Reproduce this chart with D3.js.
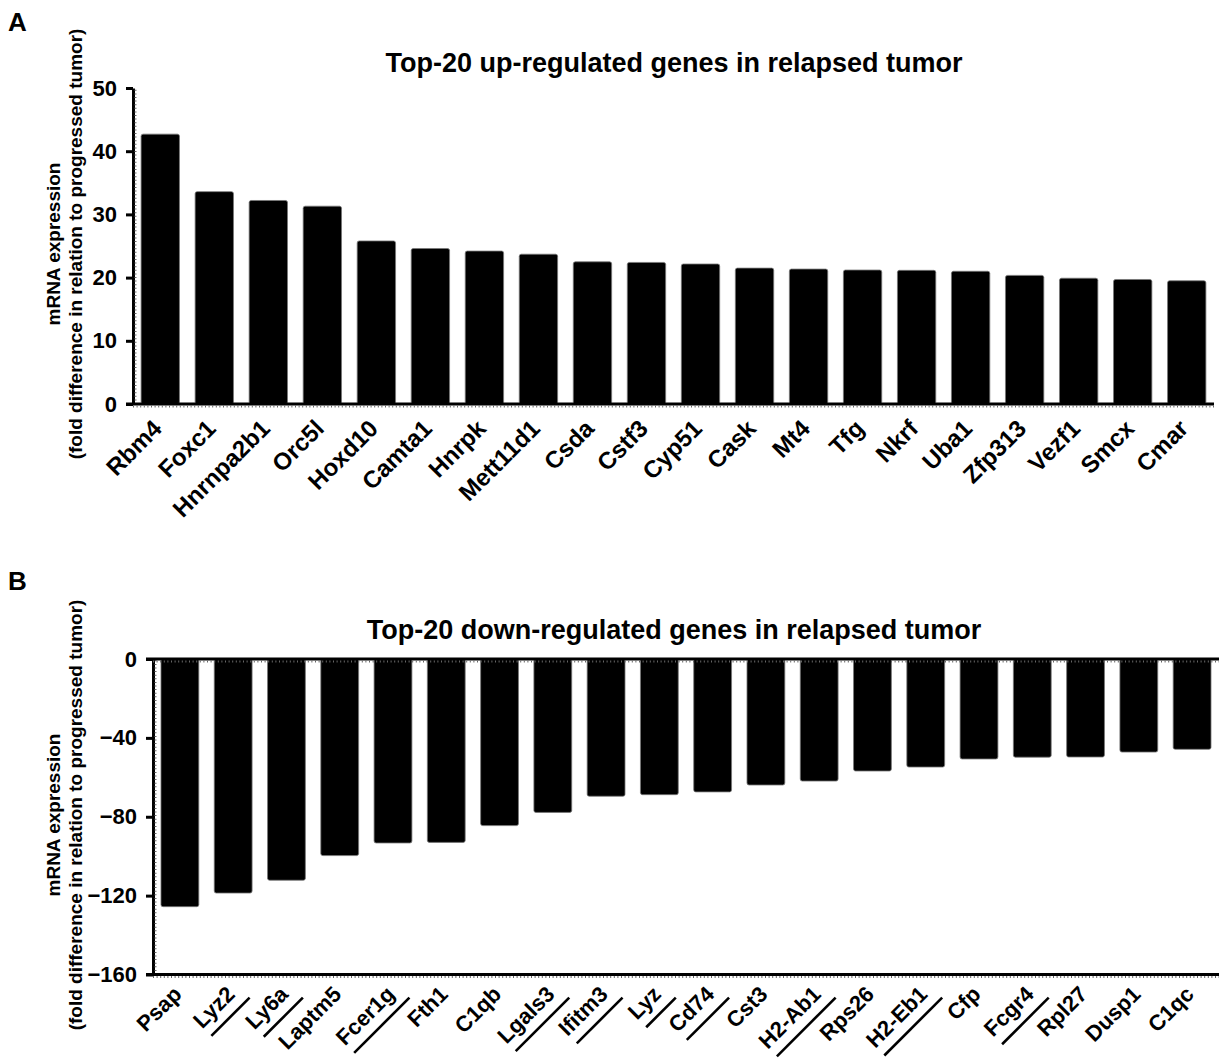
<!DOCTYPE html>
<html>
<head>
<meta charset="utf-8">
<script src="https://cdn.jsdelivr.net/npm/d3@7"></script>
<style>
  html, body { margin: 0; padding: 0; background: #fff; }
  svg { display: block; }
  text { font-family: "Liberation Sans", Arial, sans-serif; font-weight: bold; fill: #000; }
</style>
</head>
<body>
<svg id="chart" width="1220" height="1059"></svg>
<script>
// ---------------- DATA ----------------
const genesUp = ["Rbm4","Foxc1","Hnrnpa2b1","Orc5l","Hoxd10","Camta1","Hnrpk","Mett11d1","Csda","Cstf3",
                 "Cyp51","Cask","Mt4","Tfg","Nkrf","Uba1","Zfp313","Vezf1","Smcx","Cmar"];
const valuesUp = [42.7,33.6,32.2,31.3,25.8,24.6,24.2,23.7,22.5,22.4,
                  22.15,21.5,21.35,21.2,21.15,21.0,20.35,19.9,19.7,19.5];
const ticksUp = [0,10,20,30,40,50];

const genesDown = ["Psap","Lyz2","Ly6a","Laptm5","Fcer1g","Fth1","C1qb","Lgals3","Ifitm3","Lyz",
                   "Cd74","Cst3","H2-Ab1","Rps26","H2-Eb1","Cfp","Fcgr4","Rpl27","Dusp1","C1qc"];
const valuesDown = [-125.6,-118.7,-112.2,-99.7,-93.3,-93.0,-84.5,-77.8,-69.6,-68.8,
                    -67.4,-63.9,-61.9,-56.8,-54.8,-50.7,-49.8,-49.7,-47.2,-45.8];
const ticksDown = [0,-40,-80,-120,-160];
const underlinedDown = ["Lyz2","Ly6a","Fcer1g","Lgals3","Ifitm3","Lyz","Cd74","H2-Ab1","H2-Eb1","Fcgr4"];

const titleUp = "Top-20 up-regulated genes in relapsed tumor";
const titleDown = "Top-20 down-regulated genes in relapsed tumor";
const yLabel1 = "mRNA expression";
const yLabel2 = "(fold difference in relation to progressed tumor)";

// ---------------- DRAW ----------------
const svg = d3.select("#chart");

function panel(opts) {
  const g = svg.append("g");
  const x = d3.scaleBand().domain(opts.genes).range(opts.xRange).paddingInner(0.29).paddingOuter(0.15);
  const y = d3.scaleLinear().domain(opts.domain).range(opts.yRange);
  const y0 = y(0);

  // bars
  g.selectAll("rect.bar").data(opts.genes.map((d, i) => ({g: d, v: opts.values[i]})))
    .enter().append("rect").attr("class", "bar")
    .attr("x", d => x(d.g))
    .attr("width", x.bandwidth())
    .attr("y", d => Math.min(y(d.v), y0))
    .attr("height", d => Math.abs(y(d.v) - y0))
    .attr("rx", 2)
    .attr("fill", "#000")
    .attr("stroke", "#777")
    .attr("stroke-width", 0.8);

  // y axis
  const yAxis = d3.axisLeft(y).tickValues(opts.ticks).tickSize(7).tickSizeOuter(0).tickPadding(9);
  const ya = g.append("g").attr("transform", `translate(${opts.xRange[0]},0)`).call(yAxis);
  ya.select(".domain").attr("stroke", "#000").attr("stroke-width", 3);
  ya.selectAll(".tick line").attr("stroke", "#000").attr("stroke-width", 3);
  ya.selectAll(".tick text").style("font-size", "22px").style("font-weight", "bold")
    .style("font-family", '"Liberation Sans", Arial, sans-serif').attr("fill", "#000");
  // minor tick texture on y axis
  g.append("line")
    .attr("x1", opts.xRange[0] + 2.5).attr("x2", opts.xRange[0] + 2.5)
    .attr("y1", opts.yRange[0]).attr("y2", opts.yRange[1])
    .attr("stroke", "#666").attr("stroke-width", 2).attr("stroke-dasharray", "1,2.6");

  // horizontal axis lines
  opts.hLines.forEach(v => {
    const yy = y(v);
    g.append("line")
      .attr("x1", opts.xRange[0] - 7).attr("x2", opts.xRange[1])
      .attr("y1", yy).attr("y2", yy)
      .attr("stroke", "#000").attr("stroke-width", 3);
    g.append("line")
      .attr("x1", opts.xRange[0]).attr("x2", opts.xRange[1])
      .attr("y1", yy + 2.5).attr("y2", yy + 2.5)
      .attr("stroke", "#666").attr("stroke-width", 2).attr("stroke-dasharray", "1,2.6");
  });

  // x labels
  const axisY = y(opts.domain[0]);
  const lab = g.selectAll("g.xl").data(opts.genes).enter().append("g").attr("class", "xl")
    .attr("transform", d => `translate(${x(d) + x.bandwidth() / 2 + 3},${axisY + opts.labelDy}) rotate(-45)`);
  lab.append("text")
    .attr("text-anchor", "end")
    .style("font-size", opts.labelSize + "px")
    .text(d => d);
  lab.each(function(d) {
    if (opts.underlined && opts.underlined.includes(d)) {
      const t = d3.select(this).select("text").node();
      const len = t.getComputedTextLength();
      d3.select(this).append("line")
        .attr("x1", -len + 2).attr("x2", 8)
        .attr("y1", 11).attr("y2", 11)
        .attr("stroke", "#000").attr("stroke-width", 2.6);
    }
  });

  // title
  g.append("text").attr("x", opts.titleX).attr("y", opts.titleY)
    .attr("text-anchor", "middle").style("font-size", "27px").text(opts.title);

  // y label
  const yc = opts.yLabelCenter;
  g.append("text").attr("transform", `translate(60,${yc}) rotate(-90)`)
    .attr("text-anchor", "middle").style("font-size", "19px").text(yLabel1);
  g.append("text").attr("transform", `translate(82,${yc}) rotate(-90)`)
    .attr("text-anchor", "middle").style("font-size", "19px").text(yLabel2);

  // panel letter
  g.append("text").attr("x", 8).attr("y", opts.letterY).style("font-size", "26px").text(opts.letter);
}

panel({
  genes: genesUp, values: valuesUp, ticks: ticksUp,
  domain: [0, 50], xRange: [133, 1214], yRange: [404, 88],
  hLines: [0], labelDy: 26, labelSize: 24,
  title: titleUp, titleX: 674, titleY: 72,
  yLabelCenter: 244, letter: "A", letterY: 31
});

panel({
  genes: genesDown, values: valuesDown, ticks: ticksDown,
  domain: [-160, 0], xRange: [153, 1219], yRange: [974.5, 659],
  hLines: [0, -160], labelDy: 21, labelSize: 22, underlined: underlinedDown,
  title: titleDown, titleX: 674, titleY: 639,
  yLabelCenter: 815, letter: "B", letterY: 590
});
</script>
</body>
</html>
